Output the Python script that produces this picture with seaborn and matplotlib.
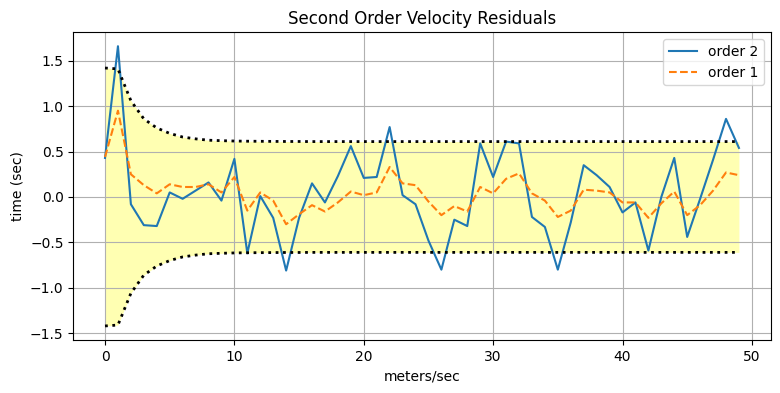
import numpy as np
import pandas as pd
import matplotlib
matplotlib.use("Agg")
import matplotlib.pyplot as plt
import seaborn as sns

x = list(range(50))
order2 = [0.43, 1.66, -0.08, -0.31, -0.32, 0.05, -0.02, 0.07, 0.16, -0.04,
          0.42, -0.62, 0.01, -0.23, -0.81, -0.23, 0.15, -0.06, 0.23, 0.56,
          0.21, 0.22, 0.77, 0.02, -0.08, -0.48, -0.80, -0.25, -0.32, 0.59,
          0.22, 0.61, 0.59, -0.22, -0.33, -0.80, -0.28, 0.35, 0.24, 0.11,
          -0.17, -0.06, -0.59, 0.00, 0.43, -0.44, -0.02, 0.41, 0.86, 0.54]
order1 = [0.44, 0.95, 0.25, 0.13, 0.04, 0.14, 0.11, 0.11, 0.14, 0.05,
          0.22, -0.15, 0.05, -0.04, -0.30, -0.19, -0.09, -0.16, -0.06, 0.06,
          0.02, 0.05, 0.33, 0.15, 0.13, -0.05, -0.20, -0.10, -0.16, 0.11,
          0.04, 0.20, 0.26, 0.04, -0.04, -0.22, -0.15, 0.08, 0.07, 0.05,
          -0.06, -0.06, -0.23, -0.07, 0.06, -0.20, -0.09, 0.07, 0.27, 0.24]
bound = [1.42, 1.41, 1.06, 0.86, 0.76, 0.70, 0.66, 0.64, 0.625, 0.62,
         0.616, 0.614, 0.613, 0.612, 0.611, 0.611, 0.61, 0.61, 0.61, 0.61,
         0.61, 0.61, 0.61, 0.61, 0.61, 0.61, 0.61, 0.61, 0.61, 0.61,
         0.61, 0.61, 0.61, 0.61, 0.61, 0.61, 0.61, 0.61, 0.61, 0.61,
         0.61, 0.61, 0.61, 0.61, 0.61, 0.61, 0.61, 0.61, 0.61, 0.61]

df = pd.DataFrame({"x": x, "order 2": order2, "order 1": order1,
                   "upper": bound, "lower": [-b for b in bound]})

fig, ax = plt.subplots(figsize=(7.8, 3.93), dpi=100)
fig.subplots_adjust(left=0.094, right=0.988, top=0.918, bottom=0.135)

ax.fill_between(df["x"], df["lower"], df["upper"], color="yellow", alpha=0.3, linewidth=0)
sns.lineplot(data=df, x="x", y="order 2", ax=ax, color="#1f77b4", label="order 2")
sns.lineplot(data=df, x="x", y="order 1", ax=ax, color="#ff7f0e", linestyle="--", label="order 1")
sns.lineplot(data=df, x="x", y="upper", ax=ax, color="black", linestyle=":", linewidth=2)
sns.lineplot(data=df, x="x", y="lower", ax=ax, color="black", linestyle=":", linewidth=2)

ax.grid(True)
ax.set_title("Second Order Velocity Residuals")
ax.set_xlabel("meters/sec")
ax.set_ylabel("time (sec)")
ax.legend(loc="upper right")
fig.savefig("out.png", dpi=100)
